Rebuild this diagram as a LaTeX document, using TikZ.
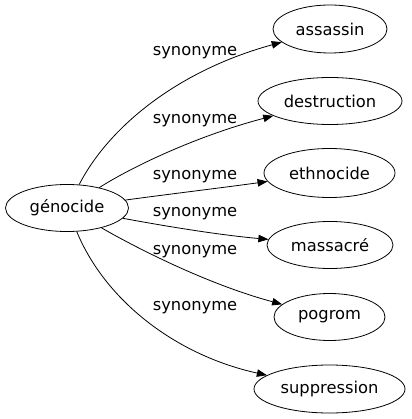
\documentclass[tikz,border=0pt]{standalone}
\usepackage{fontspec}
\setmainfont{DejaVu Sans}
\usetikzlibrary{arrows.meta,shapes.geometric}
\begin{document}
\begin{tikzpicture}[x=1pt,y=-1pt,
  word/.style={draw,ellipse,line width=0.8pt,inner sep=0pt,font=\fontsize{16.3}{18}\selectfont},
  lbl/.style={inner sep=0pt,font=\fontsize{16.3}{18}\selectfont},
  rel/.style={line width=0.8pt,-{Triangle[length=10pt,width=7.5pt]}}]
\useasboundingbox (0,0) rectangle (411,419);
\node[word,minimum width=123pt,minimum height=47pt] (g) at (67,208) {génocide};
\node[word,minimum width=114pt,minimum height=48pt] (t1) at (330,29) {assassin};
\node[word,minimum width=144pt,minimum height=47pt] (t2) at (330,101) {destruction};
\node[word,minimum width=131pt,minimum height=49pt] (t3) at (329.5,173) {ethnocide};
\node[word,minimum width=126pt,minimum height=47pt] (t4) at (330,245) {massacré};
\node[word,minimum width=111pt,minimum height=47pt] (t5) at (329.5,317) {pogrom};
\node[word,minimum width=151pt,minimum height=48pt] (t6) at (329.5,389) {suppression};
\draw[rel] (g) .. controls (110,125) and (180,70) .. (t1);
\draw[rel] (g) .. controls (135,165) and (200,135) .. (t2);
\draw[rel] (g) .. controls (170,194) and (220,188) .. (t3);
\draw[rel] (g) .. controls (170,227) and (220,235) .. (t4);
\draw[rel] (g) .. controls (140,250) and (210,285) .. (t5);
\draw[rel] (g) .. controls (105,300) and (175,355) .. (t6);
\node[lbl] (l1) at (195,53) {synonyme};
\node[lbl] (l2) at (195,121) {synonyme};
\node[lbl] (l3) at (195,177) {synonyme};
\node[lbl] (l4) at (195,214) {synonyme};
\node[lbl] (l5) at (195,252) {synonyme};
\node[lbl] (l6) at (195,308) {synonyme};
\end{tikzpicture}
\end{document}
